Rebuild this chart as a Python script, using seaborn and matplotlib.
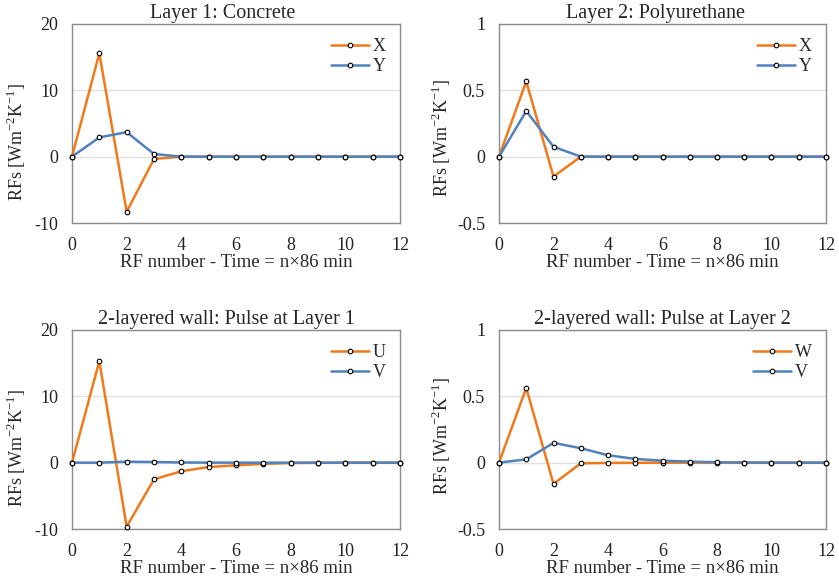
import numpy as np
import pandas as pd
import matplotlib.pyplot as plt
import seaborn as sns

# Datos
n = list(range(13))

l1_x = [0, 15.6, -8.3, -0.35, 0, 0, 0, 0, 0, 0, 0, 0, 0]
l1_y = [0, 2.9, 3.7, 0.4, 0, 0, 0, 0, 0, 0, 0, 0, 0]

l2_x = [0, 0.568, -0.15, 0, 0, 0, 0, 0, 0, 0, 0, 0, 0]
l2_y = [0, 0.344, 0.075, 0, 0, 0, 0, 0, 0, 0, 0, 0, 0]

w1_u = [0, 15.3, -9.65, -2.5, -1.3, -0.65, -0.4, -0.18, -0.06, -0.02, 0, 0, 0]
w1_v = [0, 0.0, 0.15, 0.1, 0.03, 0.01, 0, 0, 0, 0, 0, 0, 0]

w2_w = [0, 0.563, -0.16, -0.005, -0.002, -0.001, 0, 0, 0, 0, 0, 0, 0]
w2_v = [0, 0.025, 0.149, 0.109, 0.056, 0.028, 0.015, 0.008, 0.003, 0.001, 0, 0, 0]

titles = ["Layer 1: Concrete", "Layer 2: Polyurethane",
          "2-layered wall: Pulse at Layer 1", "2-layered wall: Pulse at Layer 2"]
series = [(("X", l1_x), ("Y", l1_y)),
          (("X", l2_x), ("Y", l2_y)),
          (("U", w1_u), ("V", w1_v)),
          (("W", w2_w), ("V", w2_v))]
ylims = [(-10, 20, 10), (-0.5, 1, 0.5), (-10, 20, 10), (-0.5, 1, 0.5)]

colors = ["#F07A1A", "#4F81BD"]

sns.set_theme(style="white")
plt.rcParams['font.family'] = ['Liberation Serif', 'DejaVu Serif']
plt.rcParams['mathtext.fontset'] = 'custom'
plt.rcParams['mathtext.rm'] = 'Liberation Serif'

fig = plt.figure(figsize=(8.39, 5.81), dpi=100)
W, H = 839, 581
boxes = [(72, 24, 400, 223), (499, 24, 826, 223),
         (72, 330, 400, 529), (499, 330, 826, 529)]
title_x = [0.46, 0.48, 0.47, 0.5]
ylab_pos = [(-0.135, 0.41), (-0.14, 0.43), (-0.135, 0.41), (-0.14, 0.47)]

for i, (x0, y0, x1, y1) in enumerate(boxes):
    ax = fig.add_axes([x0 / W, 1 - y1 / H, (x1 - x0) / W, (y1 - y0) / H])
    for (name, vals), c in zip(series[i], colors):
        df = pd.DataFrame({"n": n, "v": vals})
        sns.lineplot(data=df, x="n", y="v", ax=ax, color=c, lw=1.8,
                     marker="o", markersize=3.3, markerfacecolor="white",
                     markeredgecolor="black", markeredgewidth=0.8, label=name,
                     clip_on=False, zorder=3)
    lo, hi, step = ylims[i]
    ax.set_xlim(0, 12)
    ax.set_ylim(lo, hi)
    ax.set_xticks(range(0, 13, 2))
    ax.set_yticks(np.arange(lo, hi + step / 2, step))
    ax.set_yticklabels([f"{t:g}" for t in np.arange(lo, hi + step / 2, step)])
    ax.yaxis.grid(True, color="#E0E0E0", lw=1)
    ax.xaxis.grid(False)
    for s in ax.spines.values():
        s.set_color("#8C8C8C")
        s.set_linewidth(1)
    ax.tick_params(axis="both", length=0, labelsize=13, colors="#222222")
    ax.tick_params(axis="x", pad=10)
    ax.tick_params(axis="y", pad=10)
    ax.set_title(titles[i], fontsize=14.5, pad=4, x=title_x[i])
    ax.set_xlabel("RF number - Time = n×86 min", fontsize=13.5, labelpad=0)
    ax.set_ylabel("RFs [Wm$^{-2}$K$^{-1}$]", fontsize=13)
    ax.yaxis.set_label_coords(*ylab_pos[i])
    ax.legend(loc="upper right", frameon=False, fontsize=13, handlelength=2.1,
              handletextpad=0.2, labelspacing=0.15, borderaxespad=0.4)

fig.savefig("out.png", dpi=100)
